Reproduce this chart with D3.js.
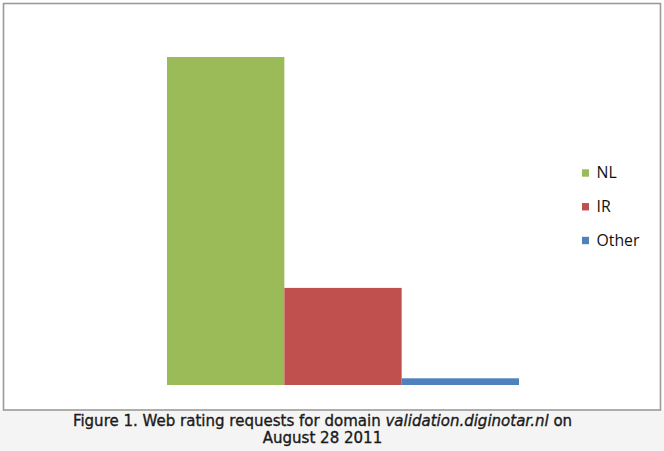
<!DOCTYPE html>
<html><head><meta charset="utf-8">
<script src="https://cdn.jsdelivr.net/npm/d3@7"></script>
<style>
html,body{margin:0;padding:0;background:#ffffff;}
svg{display:block;}
.cap{font-family:"DejaVu Sans", Verdana, sans-serif;}
.leg{font-family:"Open Sans", sans-serif;}
</style></head>
<body>
<svg id="chart" width="664" height="451"></svg>
<script>
const categories = ["NL", "IR", "Other"];
const values = [76, 22.5, 1.55];
const colors = ["#9BBB59", "#C0504D", "#4F81BD"];
const captionLine1 = ["Figure 1. Web rating requests for domain ", "validation.diginotar.nl", " on"];
const captionLine2 = "August 28 2011";

const svg = d3.select("#chart");

// caption band background
svg.append("rect").attr("x",0).attr("y",410).attr("width",664).attr("height",41).attr("fill","#f5f4f4");

// chart frame
svg.append("rect").attr("x",3.5).attr("y",3.5).attr("width",657).attr("height",406.5)
  .attr("fill","#ffffff").attr("stroke","#9a9a9a").attr("stroke-width",1.6);

const x = d3.scaleBand().domain(categories).range([167, 519]).padding(0);
const y = d3.scaleLinear().domain([0, 76]).range([385, 57]);

svg.append("g").selectAll("rect").data(categories).join("rect")
  .attr("x", d => x(d))
  .attr("width", x.bandwidth())
  .attr("y", (d,i) => y(values[i]))
  .attr("height", (d,i) => y(0) - y(values[i]))
  .attr("fill", (d,i) => colors[i]);

// legend
const leg = svg.append("g").attr("transform","translate(582,0)");
const legY = d3.scalePoint().domain(categories).range([173, 240.5]);
const legTexts = [];
categories.forEach((c,i) => {
  leg.append("rect").attr("x",0).attr("y",legY(c)-3.7).attr("width",7).attr("height",7.4).attr("fill",colors[i]);
  legTexts.push(leg.append("text").attr("class","leg").attr("x",14.5).attr("y",legY(c)+5)
    .style("font-size","14px").attr("fill","#111").text(c));
});
const ow = legTexts[2].node().getComputedTextLength();
const lfs = 14 * 43 / ow;
legTexts.forEach(t => t.style("font-size", lfs + "px"));

// caption
const cap = svg.append("text").attr("class","cap").attr("x",322.5).attr("y",426.3).attr("text-anchor","middle")
  .style("font-size","13px").attr("fill","#1a1a1a").attr("stroke","#1a1a1a").attr("stroke-width",0.35);
captionLine1.forEach((t,i) => {
  cap.append("tspan").attr("font-style", i===1 ? "italic" : "normal").text(t);
});
const cap2 = svg.append("text").attr("class","cap").attr("x",322.5).attr("y",442.7).attr("text-anchor","middle")
  .style("font-size","13px").attr("fill","#1a1a1a").attr("stroke","#1a1a1a").attr("stroke-width",0.35)
  .text(captionLine2);
const w = cap.node().getComputedTextLength();
const fs = 13 * 500 / w;
cap.style("font-size", fs + "px");
cap2.style("font-size", fs + "px");
</script>
</body></html>
